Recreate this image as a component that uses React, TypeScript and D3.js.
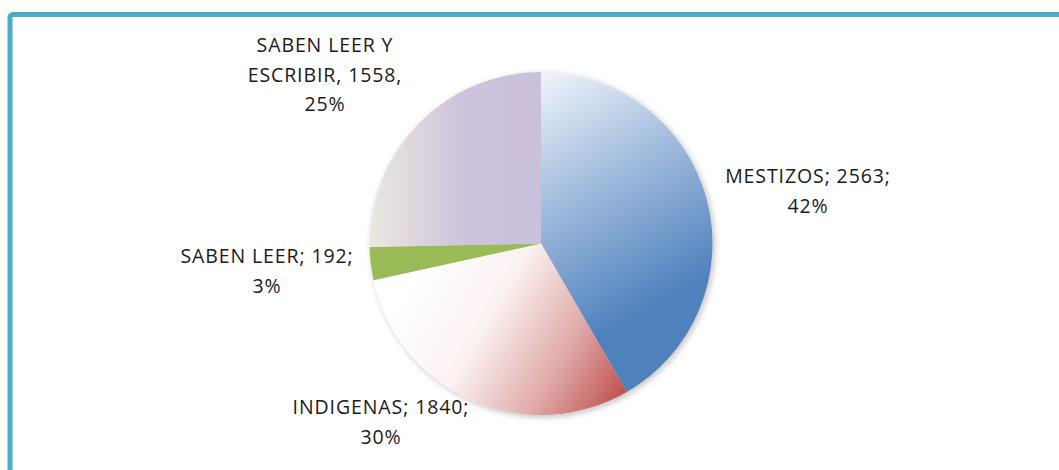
import React from "react";
import * as d3 from "d3";

const categories = ["MESTIZOS", "INDIGENAS", "SABEN LEER", "SABEN LEER Y ESCRIBIR"];
const values = [2563, 1840, 192, 1558];
const labelLines = [
  ["MESTIZOS; 2563;", "42%"],
  ["INDIGENAS; 1840;", "30%"],
  ["SABEN LEER; 192;", "3%"],
  ["SABEN LEER Y", "ESCRIBIR, 1558,", "25%"],
];
// label block anchor (center x, first baseline y)
const labelAnchors = [
  [808, 183],
  [381, 414],
  [267, 263],
  [325, 52],
];

const W = 1059;
const H = 470;
const cx = 541;
const cy = 243.5;
const R = 171.5;

export default function App() {
  const pie = d3
    .pie<number>()
    .sort(null)
    .startAngle(0)
    .endAngle(2 * Math.PI)
    .value((d) => d);
  const arcs = pie(values);
  const arc = d3.arc<d3.PieArcDatum<number>>().innerRadius(0).outerRadius(R);

  const fills = ["url(#gMest)", "url(#gInd)", "#9bbb59", "url(#gSle)"];

  return (
    <svg
      width={W}
      height={H}
      style={{ position: "absolute", left: 0, top: 0, background: "#fff" }}
      fontFamily="'Open Sans', sans-serif"
    >
      <defs>
        <linearGradient id="gMest" gradientUnits="userSpaceOnUse" x1={-10} y1={-R} x2={120} y2={60}>
          <stop offset="0" stopColor="#f4f7fc" />
          <stop offset="0.45" stopColor="#a6bfdf" />
          <stop offset="1" stopColor="#4f81bd" />
        </linearGradient>
        <linearGradient id="gInd" gradientUnits="userSpaceOnUse" x1={-130} y1={40} x2={80} y2={160}>
          <stop offset="0" stopColor="#ffffff" />
          <stop offset="0.35" stopColor="#fbf1f1" />
          <stop offset="0.7" stopColor="#dfa9a8" />
          <stop offset="1" stopColor="#c0504d" />
        </linearGradient>
        <linearGradient id="gSle" gradientUnits="userSpaceOnUse" x1={-R} y1={0} x2={0} y2={0}>
          <stop offset="0" stopColor="#ebe8e0" />
          <stop offset="0.55" stopColor="#cdc3dc" />
          <stop offset="1" stopColor="#c9c0dc" />
        </linearGradient>
        <filter id="shadow" x="-20%" y="-20%" width="140%" height="140%">
          <feDropShadow dx="2" dy="2" stdDeviation="3" floodColor="#000" floodOpacity="0.25" />
        </filter>
      </defs>
      <rect x={10} y={14.5} width={W + 20} height={H + 20} rx={3} fill="none" stroke="#4bacc6" strokeWidth={5} />
      <g transform={`translate(${cx},${cy})`} filter="url(#shadow)">
        {arcs.map((a, i) => (
          <path key={categories[i]} d={arc(a) || ""} fill={fills[i]} />
        ))}
      </g>
      {labelLines.map((lines, i) => (
        <text key={i} textAnchor="middle" fontSize={19.5} letterSpacing={0.9} fill="#1a1a1a">
          {lines.map((l, j) => (
            <tspan key={j} x={labelAnchors[i][0]} y={labelAnchors[i][1] + j * 29.5}>
              {l}
            </tspan>
          ))}
        </text>
      ))}
    </svg>
  );
}
